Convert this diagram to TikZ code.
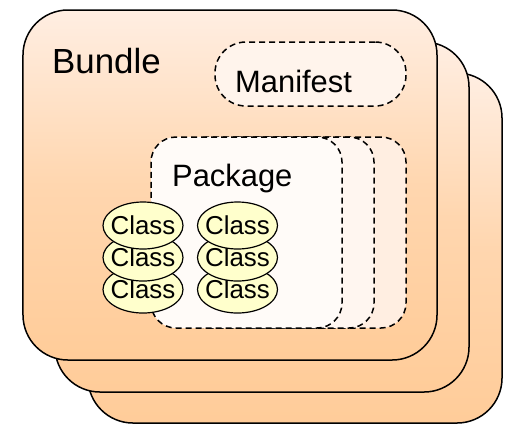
\documentclass[tikz,border=0pt]{standalone}
\usepackage{fontspec}
\setmainfont{Liberation Sans}
\usetikzlibrary{shapes.geometric}
\definecolor{btop}{RGB}{255,238,226}
\definecolor{bbot}{RGB}{255,204,153}
\definecolor{clfill}{RGB}{255,255,204}
\definecolor{pkgA}{RGB}{255,251,248}
\definecolor{pkgB}{RGB}{255,246,240}
\definecolor{pkgC}{RGB}{255,238,225}
\definecolor{mfill}{RGB}{255,244,236}
\begin{document}
\begin{tikzpicture}[x=1bp,y=-1bp,
  bundle/.style={draw, line width=1.5bp, rounded corners=45bp, minimum width=414bp, minimum height=350bp, top color=btop, bottom color=bbot, middle color=bbot!70!btop, inner sep=0pt},
  dashbox/.style={draw, line width=1.5bp, dash pattern=on 6bp off 4bp, inner sep=0pt},
  pkg/.style={dashbox, rounded corners=25bp, minimum width=191bp, minimum height=191bp},
  classell/.style={ellipse, draw, line width=1.2bp, fill=clfill, minimum width=80bp, minimum height=47bp, inner sep=0pt,
    label={[font=\fontsize{26}{26}\selectfont, inner sep=0pt]center:Class}},
  txt/.style={inner sep=0pt, anchor=base west}]
\useasboundingbox (0,0) rectangle (506,424);
% bundles
\node[bundle] (bundle3) at (295,248) {};
\node[bundle] (bundle2) at (262,217) {};
\node[bundle] (bundle1) at (230,185) {};
\node[txt, font=\fontsize{35}{35}\selectfont] (bundlelbl) at (52,73) {Bundle};
% manifest
\node[dashbox, rounded corners=31bp, minimum width=191bp, minimum height=64bp, fill=mfill] (manifest) at (310.5,74) {};
\node[txt, font=\fontsize{31}{31}\selectfont] (manifestlbl) at (235,92) {Manifest};
% packages
\node[pkg, fill=pkgC] (pkg3) at (310.5,232.5) {};
\node[pkg, fill=pkgB] (pkg2) at (278.5,232.5) {};
\node[pkg, fill=pkgA] (pkg1) at (246.5,232.5) {};
\node[txt, font=\fontsize{31}{31}\selectfont] (pkglbl) at (172,186) {Package};
% classes
\node[classell] (c13) at (143,289.5) {};
\node[classell] (c12) at (143,257.5) {};
\node[classell] (c11) at (143,225.5) {};
\node[classell] (c23) at (237.5,289.5) {};
\node[classell] (c22) at (237.5,257.5) {};
\node[classell] (c21) at (237.5,225.5) {};
\end{tikzpicture}
\end{document}
